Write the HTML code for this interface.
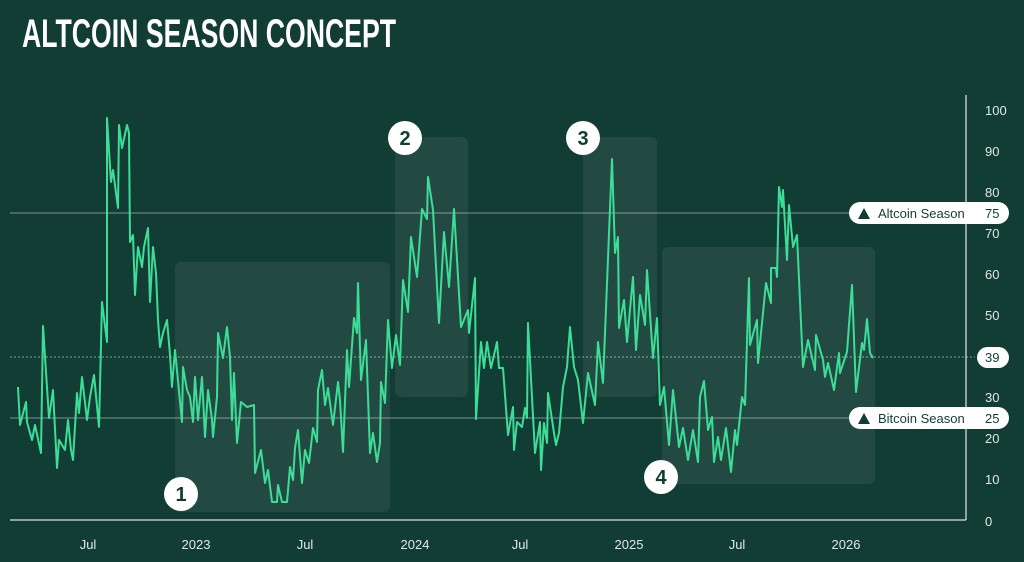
<!DOCTYPE html>
<html><head><meta charset="utf-8"><style>
html,body{margin:0;padding:0;background:#123d35;}
svg{display:block;}
text{font-family:"Liberation Sans",sans-serif;}
</style></head><body>
<svg width="1024" height="562" viewBox="0 0 1024 562" xmlns="http://www.w3.org/2000/svg">
<rect width="1024" height="562" fill="#123d35"/>
<text x="22" y="47" font-size="40" font-weight="bold" fill="#ffffff" textLength="374" lengthAdjust="spacingAndGlyphs">ALTCOIN SEASON CONCEPT</text>
<!-- boxes -->
<g fill="#ffffff" fill-opacity="0.07">
<rect x="175" y="262" width="215" height="250" rx="6"/>
<rect x="395" y="137" width="73" height="260" rx="6"/>
<rect x="583" y="137" width="74" height="260" rx="6"/>
<rect x="662" y="247" width="213" height="237" rx="6"/>
</g>
<!-- reference lines -->
<line x1="10" y1="213" x2="966" y2="213" stroke="#ffffff" stroke-opacity="0.45" stroke-width="1"/>
<line x1="10" y1="418" x2="966" y2="418" stroke="#ffffff" stroke-opacity="0.45" stroke-width="1"/>
<line x1="10" y1="357" x2="975" y2="357" stroke="#ffffff" stroke-opacity="0.5" stroke-width="1" stroke-dasharray="2,2"/>
<!-- axes -->
<line x1="10" y1="520" x2="966" y2="520" stroke="#ffffff" stroke-opacity="0.7" stroke-width="1.5"/>
<line x1="966" y1="95" x2="966" y2="520" stroke="#ffffff" stroke-opacity="0.7" stroke-width="1.5"/>
<!-- series -->
<polyline fill="none" stroke="#3ddc97" stroke-width="2" stroke-linejoin="round" points="
18,387 20,425 26,402 27,422 32,440 35,425 41,453 43,326 49,418 53,390 57,468 59,440 65,450 68,420 71,450 73,460 77,393 79,413 82,377 87,420 90,397 94,375 99,427 102,302 107,342 107,118 111,182 113,170 118,208 119,125 122,148 127,125 129,133 130,242 133,235 135,295 138,247 142,267 144,247 148,228 150,302 153,247 156,273 158,320 160,347 163,333 167,320 170,355 172,387 175,350 182,422 183,367 187,390 190,397 193,422 195,377 198,420 202,377 205,437 208,390 212,420 213,437 217,397 218,333 223,358 227,327 230,357 232,420 234,373 237,443 241,402 247,407 254,405 255,473 261,450 265,483 268,470 272,502 277,502 278,485 282,502 287,502 290,467 293,480 295,448 298,430 302,483 305,450 309,463 313,428 317,442 318,390 322,370 325,405 328,388 333,425 338,382 340,400 343,452 347,350 349,387 354,318 357,333 358,283 361,380 366,340 370,453 373,433 377,462 380,443 381,382 385,403 388,320 392,368 396,335 400,365 403,280 408,312 411,237 417,277 422,209 427,219 428,177 433,210 439,323 444,232 449,287 454,209 461,327 468,310 469,333 475,278 476,419 481,342 484,368 487,342 491,368 497,342 499,368 503,368 508,435 513,407 514,450 517,422 522,427 525,408 527,418 528,323 535,453 540,422 541,470 544,423 547,443 548,393 554,433 556,445 559,433 563,387 567,367 570,327 574,367 578,380 583,423 588,373 595,405 598,342 603,383 612,159 615,253 618,237 619,328 624,300 627,342 633,277 636,350 640,295 645,325 647,270 653,358 657,318 660,405 664,387 669,445 673,390 679,447 683,428 688,460 693,430 698,462 700,397 704,381 708,430 712,417 714,462 718,437 721,460 726,428 731,472 735,430 737,445 742,397 745,405 749,278 750,345 757,320 758,363 766,283 771,303 771,268 776,268 777,277 779,187 782,207 783,190 787,260 789,205 793,247 797,235 803,367 808,340 815,370 816,335 823,360 825,377 828,363 834,390 839,353 840,373 847,352 852,285 856,392 862,343 864,350 867,319 870,353 873,358"/>
<!-- numbered circles -->
<g font-weight="bold" font-size="20" text-anchor="middle" fill="#123d35">
<circle cx="181" cy="494" r="17" fill="#fff"/><text x="181" y="501">1</text>
<circle cx="405" cy="138" r="17" fill="#fff"/><text x="405" y="145">2</text>
<circle cx="583" cy="138" r="17" fill="#fff"/><text x="583" y="145">3</text>
<circle cx="661" cy="477" r="17" fill="#fff"/><text x="661" y="484">4</text>
</g>
<!-- y tick labels -->
<g font-size="13" fill="#e0e8e4">
<text x="985" y="115">100</text><text x="985" y="156">90</text><text x="985" y="197">80</text><text x="985" y="238">70</text><text x="985" y="279">60</text><text x="985" y="320">50</text><text x="985" y="402">30</text><text x="985" y="443">20</text><text x="985" y="484">10</text><text x="985" y="526">0</text>
</g>
<!-- pills -->
<rect x="849" y="202" width="160" height="22" rx="11" fill="#fff"/>
<path d="M858 219 L864 208 L870 219 Z" fill="#123d35"/>
<text x="878" y="218" font-size="13" fill="#123d35">Altcoin Season</text>
<text x="985" y="218" font-size="13" fill="#123d35">75</text>
<rect x="849" y="407" width="160" height="22" rx="11" fill="#fff"/>
<path d="M858 424 L864 413 L870 424 Z" fill="#123d35"/>
<text x="878" y="423" font-size="13" fill="#123d35">Bitcoin Season</text>
<text x="985" y="423" font-size="13" fill="#123d35">25</text>
<rect x="977" y="347" width="32" height="21" rx="10.5" fill="#fff"/>
<text x="985" y="362" font-size="13" fill="#123d35">39</text>
<!-- x labels -->
<g font-size="13" fill="#e0e8e4" text-anchor="middle">
<text x="88" y="549">Jul</text><text x="196" y="549">2023</text><text x="305" y="549">Jul</text><text x="415" y="549">2024</text><text x="520" y="549">Jul</text><text x="629" y="549">2025</text><text x="737" y="549">Jul</text><text x="846" y="549">2026</text>
</g>
</svg>
</body></html>
